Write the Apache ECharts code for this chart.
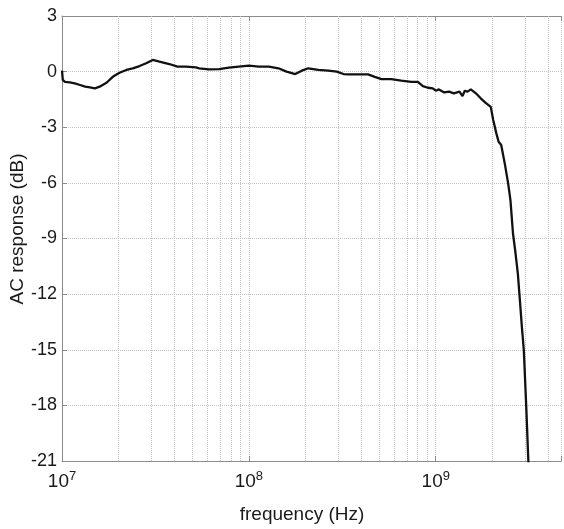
<!DOCTYPE html>
<html>
<head>
<meta charset="utf-8">
<script src="https://cdn.jsdelivr.net/npm/echarts@6/dist/echarts.min.js"></script>
<style>
html,body{margin:0;padding:0;background:#fff;}
#chart{width:564px;height:529px;}
</style>
</head>
<body>
<div id="chart"></div>
<script>
// frequency (Hz) and AC response (dB)
const freq = [
  1.00e7, 1.01e7, 1.037e7, 1.10e7, 1.17e7, 1.25e7, 1.33e7, 1.41e7, 1.50e7, 1.59e7,
  1.73e7, 1.87e7, 2.03e7, 2.21e7, 2.39e7, 2.60e7, 2.82e7, 3.06e7, 3.32e7, 3.75e7,
  4.15e7, 4.60e7, 5.21e7, 5.42e7, 6.13e7, 6.93e7, 7.82e7, 8.84e7, 1.00e8, 1.13e8,
  1.28e8, 1.44e8, 1.59e8, 1.77e8, 1.92e8, 2.08e8, 2.35e8, 2.66e8, 2.95e8, 3.21e8,
  3.39e8, 3.84e8, 4.34e8, 4.72e8, 5.12e8, 5.78e8, 6.54e8, 7.39e8, 8.02e8, 8.53e8,
  9.08e8, 9.64e8, 1.00e9, 1.04e9, 1.11e9, 1.18e9, 1.25e9, 1.34e9, 1.39e9, 1.43e9,
  1.48e9, 1.54e9, 1.64e9, 1.74e9, 1.85e9, 1.97e9, 2.03e9, 2.11e9, 2.17e9, 2.24e9,
  2.34e9, 2.44e9, 2.51e9, 2.59e9, 2.66e9, 2.75e9, 2.82e9, 2.89e9, 2.96e9, 3.05e9,
  3.13e9, 3.15e9
];
const response = [
  0.05, -0.45, -0.55, -0.58, -0.63, -0.72, -0.81, -0.85, -0.90, -0.81,
  -0.60, -0.28, -0.06, 0.09, 0.18, 0.30, 0.45, 0.63, 0.54, 0.41,
  0.27, 0.27, 0.23, 0.18, 0.12, 0.14, 0.21, 0.27, 0.32, 0.27,
  0.27, 0.18, 0.00, -0.13, 0.05, 0.18, 0.09, 0.05, 0.00, -0.13,
  -0.15, -0.15, -0.15, -0.28, -0.40, -0.40, -0.49, -0.55, -0.55, -0.78,
  -0.87, -0.90, -1.03, -0.96, -1.12, -1.08, -1.17, -1.08, -1.32, -1.03,
  -1.08, -0.96, -1.17, -1.44, -1.68, -1.90, -2.61, -3.33, -3.78, -3.96,
  -4.95, -6.03, -6.93, -8.73, -9.63, -10.89, -12.33, -13.77, -15.03, -18.08,
  -21.0, -21.3
];
const minorGridFreqs = [
  2e7, 3e7, 4e7, 5e7, 6e7, 7e7, 8e7, 9e7,
  2e8, 3e8, 4e8, 5e8, 6e8, 7e8, 8e8, 9e8,
  2e9, 3e9, 4e9
];
const xRange = { min: 1e7, max: 4.68e9 };
const yTicks = { min: -21, max: 3, interval: 3 };

const points = freq.map((f, i) => [f, response[i]]);
const axisColor = '#8c8c8c';
const gridColor = '#c4c4c4';
const textColor = '#1a1a1a';
const fontFamily = '"Liberation Sans", Arial, Helvetica, sans-serif';

const chart = echarts.init(document.getElementById('chart'), null, { renderer: 'canvas' });
chart.setOption({
  animation: false,
  backgroundColor: '#fff',
  textStyle: { fontFamily: fontFamily },
  grid: { left: 62, top: 16, right: 0, bottom: 68, show: false },
  xAxis: [{
    type: 'log', logBase: 10, min: xRange.min, max: xRange.max,
    axisLine: { show: true, onZero: false, lineStyle: { color: axisColor, width: 1 } },
    axisTick: { show: true, inside: true, length: 5, lineStyle: { color: axisColor } },
    splitLine: { show: true, lineStyle: { color: gridColor, type: 'dotted', width: 1 } },
    minorTick: { show: false },
    axisLabel: {
      margin: 9,
      color: textColor,
      fontFamily: fontFamily,
      formatter: function (v) {
        const l = Math.log10(v);
        const e = Math.round(l);
        if (Math.abs(l - e) > 1e-6) return '';
        return '{b|10}{s|' + e + '}';
      },
      rich: {
        b: { fontSize: 19, fontFamily: fontFamily, color: textColor, lineHeight: 22 },
        s: { fontSize: 13, fontFamily: fontFamily, color: textColor, padding: [0, 0, 11, 0] }
      }
    }
  }, {
    type: 'log', logBase: 10, min: xRange.min, max: xRange.max, position: 'top',
    axisLine: { show: true, onZero: false, lineStyle: { color: axisColor, width: 1 } },
    axisTick: { show: true, inside: true, length: 5, lineStyle: { color: axisColor } },
    splitLine: { show: false },
    axisLabel: { show: false }
  }],
  yAxis: {
    type: 'value', min: yTicks.min, max: yTicks.max, interval: yTicks.interval,
    axisLine: { show: true, onZero: false, lineStyle: { color: axisColor, width: 1 } },
    axisTick: { show: true, inside: true, length: 5, lineStyle: { color: axisColor } },
    splitLine: { show: true, lineStyle: { color: gridColor, type: 'dotted', width: 1 } },
    axisLabel: { margin: 5, fontSize: 18, color: textColor, fontFamily: fontFamily }
  },
  graphic: [
    {
      type: 'text', x: 302, y: 515,
      style: { text: 'frequency (Hz)', fontSize: 19, fontFamily: fontFamily, fill: textColor,
               textAlign: 'center', textVerticalAlign: 'middle' }
    },
    {
      type: 'text', x: 18, y: 229, rotation: Math.PI / 2,
      style: { text: 'AC response (dB)', fontSize: 19, fontFamily: fontFamily, fill: textColor,
               textAlign: 'center', textVerticalAlign: 'middle' }
    }
  ],
  series: [{
    type: 'line',
    xAxisIndex: 0,
    data: points,
    showSymbol: false,
    clip: true,
    lineStyle: { color: '#111', width: 2.3 },
    itemStyle: { color: '#111' },
    z: 5,
    markLine: {
      silent: true,
      symbol: ['none', 'none'],
      label: { show: false },
      animation: false,
      lineStyle: { color: gridColor, type: 'dotted', width: 1 },
      emphasis: { disabled: true },
      data: minorGridFreqs.map(f => ({ xAxis: f }))
    }
  }]
});
</script>
</body>
</html>
